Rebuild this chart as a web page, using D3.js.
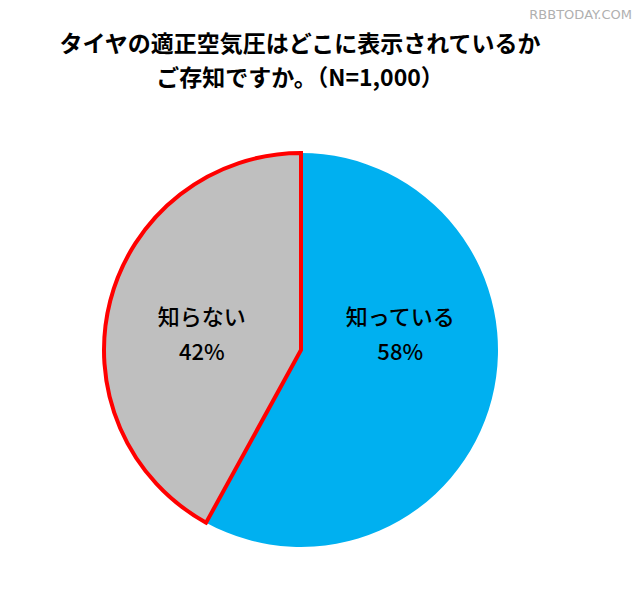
<!DOCTYPE html>
<html><head><meta charset="utf-8">
<script src="https://cdn.jsdelivr.net/npm/d3@7"></script>
<style>body{margin:0;background:#fff}</style>
</head><body>
<svg id="chart" width="640" height="594"></svg>
<script>
// chart data
var categories = ["知っている", "知らない"];
var values = [58, 42];
var colors = ["#00b0f0", "#bfbfbf"];
var titleLines = ["タイヤの適正空気圧はどこに表示されているか", "ご存知ですか。（N=1,000）"];

var svg = d3.select("#chart");
var font = "'Noto Sans CJK JP', sans-serif";

// title
svg.selectAll("text.title")
    .data(titleLines)
    .enter()
    .append("text")
    .attr("x", 300)
    .attr("y", function(d, i) { return 52 + i * 34; })
    .attr("text-anchor", "middle")
    .style("font-family", font)
    .style("font-weight", "bold")
    .style("font-size", "23px")
    .text(function(d) { return d; });

// watermark
svg.append("text")
    .attr("x", 632).attr("y", 19)
    .attr("text-anchor", "end")
    .style("font-family", "'DejaVu Sans', sans-serif")
    .style("font-size", "13px")
    .style("fill", "#b0b0b0")
    .text("RBBTODAY.COM");

var cx = 301, cy = 350, r = 197;
var pie = d3.pie().sort(null)(values);
var arc = d3.arc().innerRadius(0).outerRadius(r);
var labelArc = d3.arc().innerRadius(r * 0.52).outerRadius(r * 0.52);

var g = svg.append("g").attr("transform", "translate(" + cx + "," + cy + ")");

// blue first, grey on top so the red outline stays visible
g.selectAll("path")
    .data(pie)
    .enter()
    .append("path")
    .attr("d", arc)
    .attr("fill", function(d, i) { return colors[i]; })
    .attr("stroke", function(d, i) { return i == 1 ? "#ff0000" : "none"; })
    .attr("stroke-width", 4)
    .attr("stroke-linejoin", "miter");

var labels = g.selectAll("g.lbl")
    .data(pie)
    .enter()
    .append("g")
    .attr("transform", function(d) {
        var c = labelArc.centroid(d);
        return "translate(" + c[0] + "," + (-25) + ")";
    });

labels.append("text")
    .attr("text-anchor", "middle")
    .attr("y", 0)
    .style("font-family", font)
    .style("font-size", "22px")
    .style("font-weight", "500")
    .text(function(d, i) { return categories[i]; });

labels.append("text")
    .attr("text-anchor", "middle")
    .attr("y", 35)
    .style("font-family", font)
    .style("font-size", "22px")
    .style("font-weight", "500")
    .text(function(d) { return d.data + "%"; });
</script>
</body></html>
